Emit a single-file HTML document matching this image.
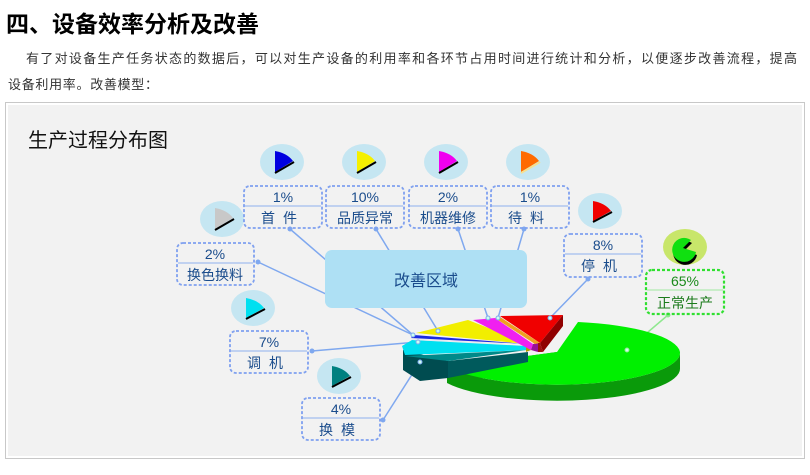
<!DOCTYPE html>
<html><head><meta charset="utf-8"><style>
body{margin:0;width:810px;height:470px;background:#fff;overflow:hidden;font-family:"Liberation Sans","Noto Sans CJK SC",sans-serif}
</style></head><body>
<svg width="810" height="470" viewBox="0 0 810 470" xmlns="http://www.w3.org/2000/svg" font-family="'Liberation Sans','Noto Sans CJK SC',sans-serif">
<text x="6" y="32" font-size="23" font-weight="bold" fill="#000">四、设备效率分析及改善</text>
<text x="26" y="63" font-size="13" fill="#333" textLength="771" lengthAdjust="spacing">有了对设备生产任务状态的数据后，可以对生产设备的利用率和各环节占用时间进行统计和分析，以便逐步改善流程，提高</text>
<text x="8" y="89" font-size="13" fill="#333" textLength="150" lengthAdjust="spacing">设备利用率。改善模型：</text>
<rect x="5.5" y="102.5" width="799" height="356" fill="#fff" stroke="#c8c8c8"/>
<rect x="8" y="105" width="794" height="351" fill="#f2f2f2"/>
<text x="28" y="147" font-size="20" fill="#111">生产过程分布图</text>

<g stroke="#7fa8ef" stroke-width="1.5" fill="none">
<line x1="413" y1="335" x2="290" y2="229"/>
<line x1="413" y1="335" x2="258" y2="262"/>
<line x1="438" y1="331" x2="376" y2="229"/>
<line x1="488" y1="318" x2="458" y2="229"/>
<line x1="498" y1="318" x2="524" y2="229"/>
<line x1="550" y1="318" x2="588" y2="279"/>
<line x1="418" y1="342" x2="312" y2="351"/>
<line x1="420" y1="362" x2="383" y2="420"/>
<line x1="627" y1="350" x2="668" y2="315" stroke="#8fe88f"/>
</g>
<g fill="#7fa8ef">
<circle cx="290" cy="229" r="2.5"/><circle cx="258" cy="262" r="2.5"/><circle cx="376" cy="229" r="2.5"/>
<circle cx="458" cy="229" r="2.5"/><circle cx="524" cy="229" r="2.5"/><circle cx="588" cy="279" r="2.5"/>
<circle cx="312" cy="351" r="2.5"/><circle cx="383" cy="420" r="2.5"/><circle cx="668" cy="315" r="2.5" fill="#8fe88f"/>
</g>

<rect x="325" y="250" width="202" height="58" rx="7" fill="#aee0f4"/>
<text x="426" y="286" font-size="16" fill="#1a4c8c" text-anchor="middle">改善区域</text>

<!-- pie -->
<path d="M557,368 L447,383 L447,367 L557,352 Z" fill="#0a8a0a"/>
<path d="M447,367 A123,32 0 0 0 680,352 L680,368 A123,32 0 0 1 447,383 Z" fill="#0a9a0a"/>
<path d="M557,352 L578,322 A123,32 0 0 1 680,352 A123,32 0 0 1 447,367 Z" fill="#00f000"/>
<path d="M403,350 L403,370 L420,381 L448,378 L448,361 Z" fill="#004c50"/>
<path d="M448,361 L448,378 L528,362 L528,352 Z" fill="#005a5c"/>
<path d="M405,356 L527,350 L448,361 Z" fill="#008a8a"/>
<path d="M402,346 L412,340 L526,346 L526,350 L405,355 Z" fill="#00e0f0"/>
<path d="M410,338 L525,345 L412,340 Z" fill="#e8e8f0"/>
<path d="M414,335 L526,344 L411,338 Z" fill="#1a2ae0"/>
<path d="M416,333 L468,320 L527,343 L526,344 Z" fill="#f2ee00"/>
<path d="M526,344 L527,343 L531,350 L526,352 Z" fill="#b0a000"/>
<path d="M473,320 L495,318 L533,344 L531,350 Z" fill="#f020f0"/>
<path d="M531,350 L533,344 L538,343 L538,352 Z" fill="#9a109a"/>
<path d="M495,318 L500,317 L540,343 L535,344 Z" fill="#f0a020"/>
<path d="M500,316 L563,315 L540,343 Z" fill="#f00000"/>
<path d="M540,343 L563,315 L563,326 L543,352 Z" fill="#900000"/>
<path d="M538,343 L540,343 L543,352 L538,352 Z" fill="#a01010"/>
<g fill="#cfe" stroke="#7fa8ef"><circle cx="413" cy="335" r="2"/><circle cx="438" cy="331" r="2"/><circle cx="488" cy="318" r="2"/><circle cx="498" cy="318" r="2"/><circle cx="550" cy="318" r="2"/><circle cx="418" cy="342" r="2"/><circle cx="420" cy="362" r="2"/><circle cx="627" cy="350" r="2" stroke="#8fe88f"/></g>

<!-- icons -->
<g>
<ellipse cx="282" cy="162" rx="22" ry="18" fill="#c5e6f2"/>
<ellipse cx="364" cy="162" rx="22" ry="18" fill="#c5e6f2"/>
<ellipse cx="446" cy="162" rx="22" ry="18" fill="#c5e6f2"/>
<ellipse cx="528" cy="162" rx="22" ry="18" fill="#c5e6f2"/>
<ellipse cx="222" cy="219" rx="22" ry="18" fill="#c5e6f2"/>
<ellipse cx="600" cy="211" rx="22" ry="18" fill="#c5e6f2"/>
<ellipse cx="685" cy="247" rx="22" ry="18" fill="#c8e66a"/>
<ellipse cx="253" cy="308" rx="22" ry="18" fill="#c5e6f2"/>
<ellipse cx="339" cy="376" rx="22" ry="18" fill="#c5e6f2"/>
</g>
<g stroke="#000" stroke-width="2">
<path d="M275,151 Q287,153 293,161 L275,172 Z" fill="#0000e0" stroke="none"/><line x1="275" y1="173" x2="294" y2="162"/>
<path d="M357,151 Q369,153 375,161 L357,172 Z" fill="#f5f000" stroke="none"/><line x1="357" y1="173" x2="376" y2="162"/>
<path d="M439,151 Q451,153 457,161 L439,172 Z" fill="#f000f0" stroke="none"/><line x1="439" y1="173" x2="458" y2="162"/>
<path d="M521,151 Q533,153 539,161 L521,172 Z" fill="#ff6a00" stroke="none"/><line x1="521" y1="173" x2="540" y2="162" stroke="#f5e090"/>
<path d="M215,208 Q227,210 233,218 L215,229 Z" fill="#c8c8c8" stroke="none"/><line x1="215" y1="230" x2="234" y2="219"/>
<path d="M593,201 Q605,203 611,211 L593,221 Z" fill="#f00000" stroke="none"/><line x1="593" y1="222" x2="612" y2="212"/>
<path d="M246,298 Q258,300 264,308 L246,318 Z" fill="#00e0f0" stroke="none"/><line x1="246" y1="319" x2="265" y2="309"/>
<path d="M332,366 Q344,368 350,376 L332,386 Z" fill="#008080" stroke="none"/><line x1="332" y1="387" x2="351" y2="377"/>
</g>
<path d="M692,243 A12,12 0 1 0 697,255 L684,251 Z" fill="#000"/>
<path d="M691,240 A12,12 0 1 0 696,252 L683,248 Z" fill="#10e010"/>

<!-- boxes -->
<g fill="none" stroke="#7fa0ef" stroke-width="1.8" stroke-dasharray="3,2">
<rect x="244" y="186" width="78" height="42" rx="6"/>
<rect x="326" y="186" width="78" height="42" rx="6"/>
<rect x="409" y="186" width="78" height="42" rx="6"/>
<rect x="491" y="186" width="78" height="42" rx="6"/>
<rect x="177" y="243" width="77" height="42" rx="6"/>
<rect x="564" y="234" width="78" height="43" rx="6"/>
<rect x="230" y="331" width="78" height="42" rx="6"/>
<rect x="302" y="398" width="78" height="42" rx="6"/>
<rect x="646" y="270" width="78" height="44" rx="6" stroke="#30e030" stroke-width="2.2"/>
</g>
<g stroke="#8fb0ef" stroke-width="1">
<line x1="245" y1="206" x2="321" y2="206"/><line x1="327" y1="206" x2="403" y2="206"/>
<line x1="410" y1="206" x2="486" y2="206"/><line x1="492" y1="206" x2="568" y2="206"/>
<line x1="178" y1="263" x2="253" y2="263"/><line x1="565" y1="254" x2="641" y2="254"/>
<line x1="231" y1="351" x2="307" y2="351"/><line x1="303" y1="418" x2="379" y2="418"/>
<line x1="647" y1="290" x2="723" y2="290" stroke="#a0e8a0"/>
</g>
<g font-size="14" fill="#1a4c8c" text-anchor="middle">
<text x="283" y="202">1%</text><text x="283" y="223" letter-spacing="8">首件</text>
<text x="365" y="202">10%</text><text x="365" y="223">品质异常</text>
<text x="448" y="202">2%</text><text x="448" y="223">机器维修</text>
<text x="530" y="202">1%</text><text x="530" y="223" letter-spacing="8">待料</text>
<text x="215" y="259">2%</text><text x="215" y="280">换色换料</text>
<text x="603" y="250">8%</text><text x="603" y="271" letter-spacing="8">停机</text>
<text x="269" y="347">7%</text><text x="269" y="368" letter-spacing="8">调机</text>
<text x="341" y="414">4%</text><text x="341" y="435" letter-spacing="8">换模</text>
<text x="685" y="286" fill="#1a8a1a">65%</text><text x="685" y="308" fill="#1a7a1a">正常生产</text>
</g>
</svg>
</body></html>
